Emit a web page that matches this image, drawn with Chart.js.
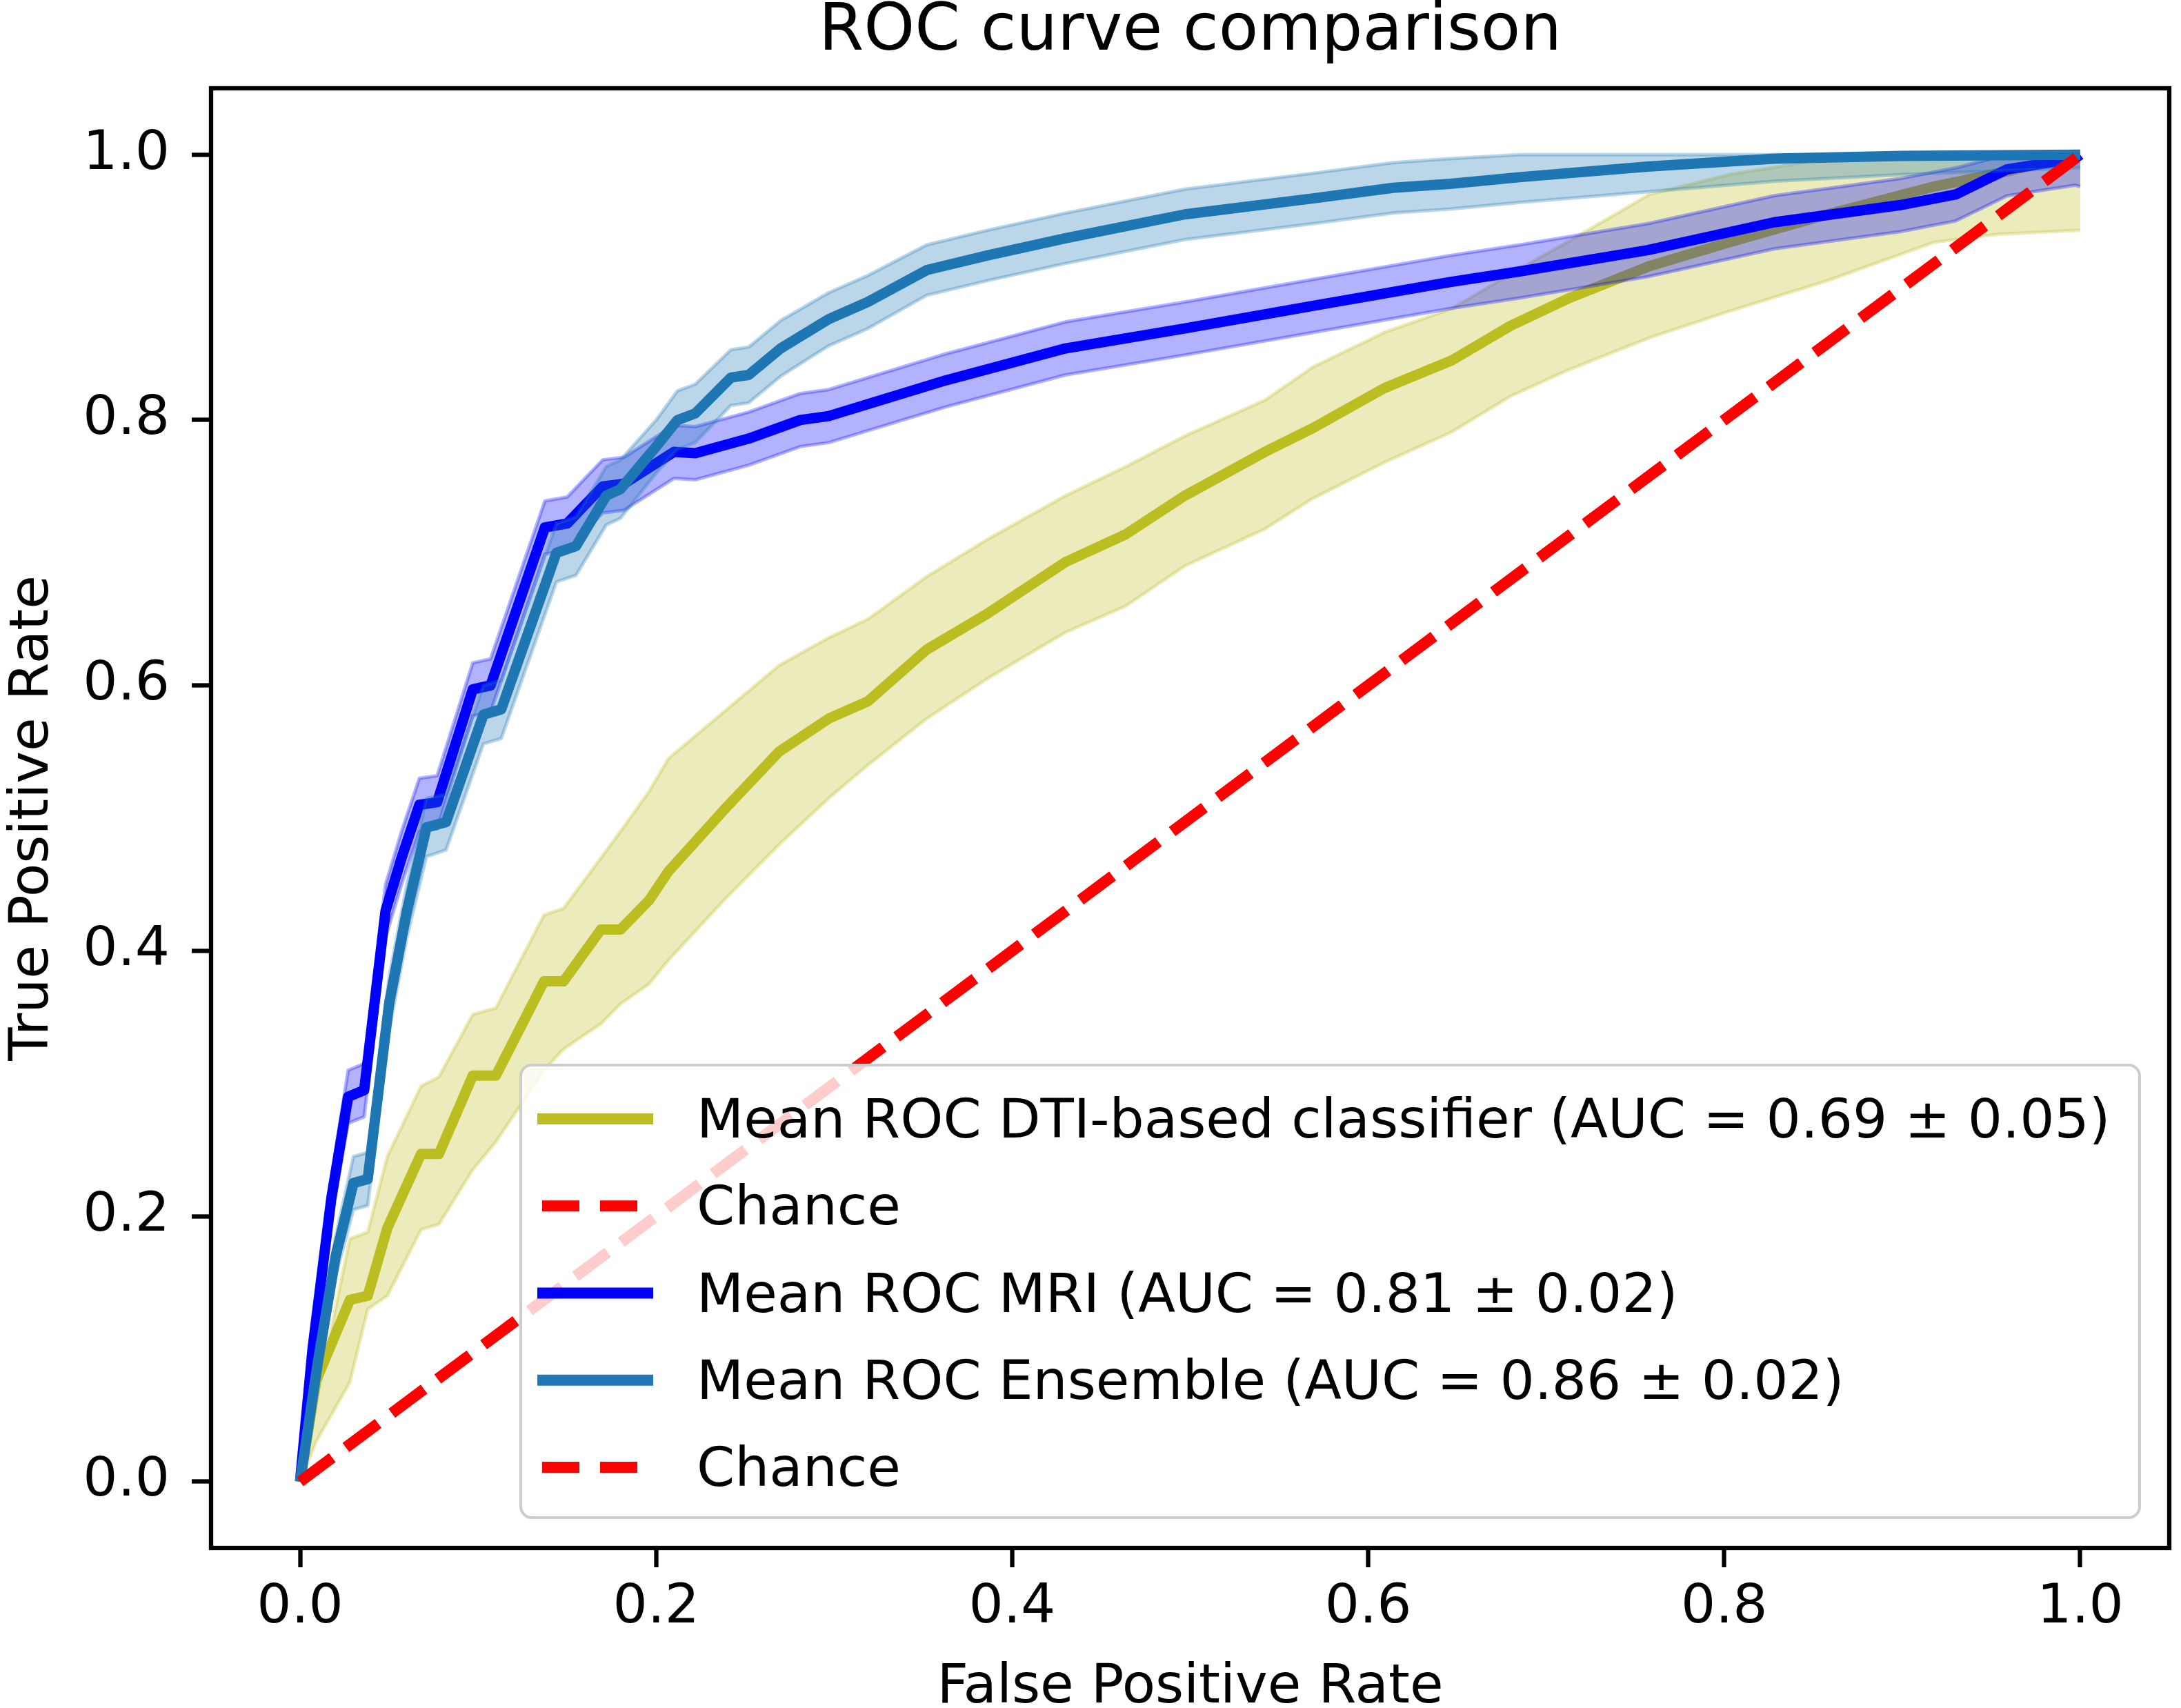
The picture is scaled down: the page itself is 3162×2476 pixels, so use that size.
<!DOCTYPE html>
<html>
<head>
<meta charset="utf-8">
<title>ROC curve comparison</title>
<script src="https://cdn.jsdelivr.net/npm/chart.js@4.4.1/dist/chart.umd.min.js"></script>
<style>
  html, body { margin: 0; padding: 0; background: #ffffff; }
  canvas { display: block; }
</style>
</head>
<body>
<canvas id="roc" width="3162" height="2476"></canvas>
<script>
// --- data ---

const xTicks = [0, 0.2, 0.4, 0.6, 0.8, 1.0];
const yTicks = [0, 0.2, 0.4, 0.6, 0.8, 1.0];

// DTI-based classifier
const dtiFpr   = [0, .009, .028, .038, .049, .068, .078, .097, .11, .137, .148, .169, .18, .196, .207, .238, .269, .297, .319, .352, .386, .43, .464, .497, .542, .569, .609, .647, .68, .713, .758, .803, .858, .918, .954, 1.0];
const dtiMean  = [0, .076, .137, .14, .191, .247, .247, .306, .306, .377, .377, .416, .416, .438, .46, .506, .55, .575, .588, .627, .654, .693, .714, .743, .776, .794, .824, .845, .871, .892, .916, .934, .955, .976, .986, 1.0];
const dtiUpper = [0, .06, .183, .188, .245, .298, .305, .352, .357, .427, .432, .47, .49, .52, .545, .58, .615, .636, .65, .682, .71, .743, .765, .788, .815, .84, .866, .884, .91, .935, .97, .985, .997, 1.0, 1.0, 1.0];
const dtiLower = [0, .03, .075, .13, .14, .19, .194, .235, .256, .31, .326, .345, .36, .375, .393, .438, .48, .515, .54, .575, .605, .64, .66, .69, .718, .741, .768, .791, .818, .838, .862, .882, .905, .934, .94, .943];

// MRI
const mriFpr   = [0, .007, .0175, .027, .036, .048, .057, .067, .077, .097, .107, .1375, .15, .17, .182, .21, .222, .252, .281, .297, .363, .43, .497, .569, .646, .685, .757, .828, .899, .93, .959, .997, 1.0];
const mriMean  = [0, .10, .213, .29, .295, .43, .47, .51, .512, .597, .60, .719, .722, .75, .752, .776, .775, .786, .80, .803, .83, .854, .869, .886, .904, .912, .928, .949, .962, .97, .989, .997, 1.0];
const mriUpper = [0, .11, .228, .31, .315, .45, .49, .53, .532, .617, .62, .739, .742, .77, .772, .796, .795, .806, .82, .823, .85, .874, .889, .906, .924, .932, .948, .969, .982, .99, 1.0, 1.0, 1.0];
const mriLower = [0, .09, .198, .27, .275, .41, .45, .49, .492, .577, .58, .699, .702, .73, .732, .756, .755, .766, .78, .783, .81, .834, .849, .866, .884, .892, .908, .929, .942, .95, .969, .977, .976];

// Ensemble
const ensFpr   = [0, .01, .02, .03, .038, .05, .06, .071, .082, .103, .113, .144, .155, .172, .18, .2, .212, .222, .242, .252, .27, .297, .319, .352, .386, .43, .497, .569, .614, .646, .685, .757, .828, .9, 1.0];
const ensMean  = [0, .09, .17, .225, .228, .36, .43, .493, .497, .578, .582, .70, .705, .743, .748, .78, .80, .805, .832, .834, .854, .876, .889, .913, .924, .937, .955, .967, .975, .978, .983, .991, .997, .999, 1.0];
const ensUpper = [0, .10, .185, .245, .248, .38, .45, .515, .518, .60, .604, .722, .727, .765, .77, .80, .822, .827, .853, .855, .875, .896, .909, .932, .943, .956, .974, .986, .994, .997, 1.0, 1.0, 1.0, 1.0, 1.0];
const ensLower = [0, .08, .155, .205, .208, .34, .41, .471, .476, .556, .56, .678, .683, .721, .726, .76, .778, .783, .811, .813, .833, .856, .869, .894, .905, .918, .936, .948, .956, .959, .964, .972, .98, .985, .99];

// chance diagonal
const chanceFpr = [0, 1];
const chanceTpr = [0, 1];

const legendLabels = [
    'Mean ROC DTI-based classifier (AUC = 0.69 ± 0.05)',
    'Chance',
    'Mean ROC MRI (AUC = 0.81 ± 0.02)',
    'Mean ROC Ensemble (AUC = 0.86 ± 0.02)',
    'Chance'
];

// --- styles ---
const FONT = '"DejaVu Sans", "Liberation Sans", sans-serif';
const LW = 15;            // ~2pt at this resolution
const SPINE = 6.3;        // 0.8pt
const OLIVE = '#bcbd22';
const MRI_BLUE = '#0000ff';
const ENS_BLUE = '#1f77b4';
const RED = '#ff0000';

function pts(xs, ys) {
    return xs.map((x, i) => ({ x: x, y: ys[i] }));
}

function meanLine(label, xs, ys, color, order) {
    return { label: label, data: pts(xs, ys), borderColor: color, borderWidth: LW, order: order, inLegend: true };
}

// lower edge + upper edge filled down to it
function band(xs, lo, hi, rgb, order) {
    const c = 'rgba(' + rgb + ',0.3)';
    return [
        { label: '', data: pts(xs, lo), borderColor: c, borderWidth: 5, order: order },
        { label: '', data: pts(xs, hi), borderColor: c, borderWidth: 5, backgroundColor: c, fill: '-1', order: order }
    ];
}

function chance(label, order) {
    return { label: label, data: pts(chanceFpr, chanceTpr), borderColor: RED, borderWidth: LW + 1,
             borderDash: [58, 25], borderCapStyle: 'butt', order: order, inLegend: true };
}

// higher order is painted first, so this mirrors the plotting order
const datasets = [
    meanLine(legendLabels[0], dtiFpr, dtiMean, OLIVE, 8),
    ...band(dtiFpr, dtiLower, dtiUpper, '188,189,34', 7),
    chance(legendLabels[1], 6),
    meanLine(legendLabels[2], mriFpr, mriMean, MRI_BLUE, 5),
    ...band(mriFpr, mriLower, mriUpper, '0,0,255', 4),
    meanLine(legendLabels[3], ensFpr, ensMean, ENS_BLUE, 3),
    ...band(ensFpr, ensLower, ensUpper, '31,119,180', 2),
    chance(legendLabels[4], 1)
];

// frame, titles and the boxed legend in the lower right
const decorations = {
    id: 'decorations',
    afterDatasetsDraw(chart) {
        const { ctx, chartArea: a } = chart;
        ctx.save();
        ctx.strokeStyle = '#000';
        ctx.lineWidth = SPINE;
        ctx.strokeRect(a.left, a.top, a.right - a.left, a.bottom - a.top);
        ctx.restore();
    },
    afterDraw(chart) {
        const { ctx, chartArea: a } = chart;
        const cx = (a.left + a.right) / 2;
        const cy = (a.top + a.bottom) / 2;

        ctx.save();
        ctx.fillStyle = '#000';
        ctx.textAlign = 'center';
        ctx.textBaseline = 'alphabetic';
        ctx.font = '94px ' + FONT;
        ctx.fillText('ROC curve comparison', cx, 72);
        ctx.font = '79px ' + FONT;
        ctx.fillText('False Positive Rate', cx, 2468);
        ctx.translate(69, cy);
        ctx.rotate(-Math.PI / 2);
        ctx.fillText('True Positive Rate', 0, 0);
        ctx.restore();

        // legend box
        const box = { left: 755, top: 1544, right: a.right - 43, bottom: a.bottom - 44 };
        const r = 16;
        ctx.save();
        ctx.beginPath();
        ctx.moveTo(box.left + r, box.top);
        ctx.arcTo(box.right, box.top, box.right, box.bottom, r);
        ctx.arcTo(box.right, box.bottom, box.left, box.bottom, r);
        ctx.arcTo(box.left, box.bottom, box.left, box.top, r);
        ctx.arcTo(box.left, box.top, box.right, box.top, r);
        ctx.closePath();
        ctx.fillStyle = 'rgba(255,255,255,0.8)';
        ctx.fill();
        ctx.strokeStyle = '#cccccc';
        ctx.lineWidth = 4;
        ctx.stroke();

        const items = chart.data.datasets.filter(d => d.inLegend);
        const rowStep = 126.25;
        items.forEach((d, i) => {
            const y = box.top + 78 + i * rowStep;
            ctx.beginPath();
            ctx.strokeStyle = d.borderColor;
            ctx.lineWidth = LW + 1;
            if (d.borderDash) {
                ctx.setLineDash([54, 30]);
                ctx.lineDashOffset = 77;
                ctx.lineCap = 'butt';
            } else {
                ctx.setLineDash([]);
                ctx.lineCap = 'butt';
            }
            ctx.moveTo(779, y);
            ctx.lineTo(947, y);
            ctx.stroke();
            ctx.setLineDash([]);

            ctx.fillStyle = '#000';
            ctx.font = '79px ' + FONT;
            ctx.textAlign = 'left';
            ctx.textBaseline = 'alphabetic';
            ctx.fillText(d.label, 1010, y + 27);
        });
        ctx.restore();
    }
};

function axis(ticks, size, fitSide) {
    return {
        type: 'linear',
        min: -0.05,
        max: 1.05,
        afterFit: s => {
            s[fitSide] = size;
            s.paddingLeft = 0; s.paddingRight = 0; s.paddingTop = 0; s.paddingBottom = 0;
        },
        afterBuildTicks: s => { s.ticks = ticks.map(v => ({ value: v })); },
        ticks: {
            callback: v => Number(v).toFixed(1),
            font: { family: FONT, size: 79 },
            color: '#000',
            autoSkip: false,
            maxRotation: 0,
            padding: fitSide === 'width' ? 32 : 12
        },
        grid: { drawOnChartArea: false, drawTicks: true, tickLength: 28, tickWidth: SPINE, tickColor: '#000' },
        border: { display: false }
    };
}

new Chart(document.getElementById('roc').getContext('2d'), {
    type: 'line',
    data: { datasets: datasets },
    options: {
        responsive: false,
        animation: false,
        devicePixelRatio: 1,
        layout: { padding: { left: 0, top: 128, right: 17, bottom: 0 } },
        elements: {
            point: { radius: 0, hoverRadius: 0 },
            line: { tension: 0, fill: false, borderJoinStyle: 'round', borderCapStyle: 'butt' }
        },
        plugins: {
            legend: { display: false },
            title: { display: false },
            tooltip: { enabled: false }
        },
        scales: {
            x: axis(xTicks, 232, 'height'),
            y: axis(yTicks, 306, 'width')
        }
    },
    plugins: [decorations]
});
</script>
</body>
</html>
